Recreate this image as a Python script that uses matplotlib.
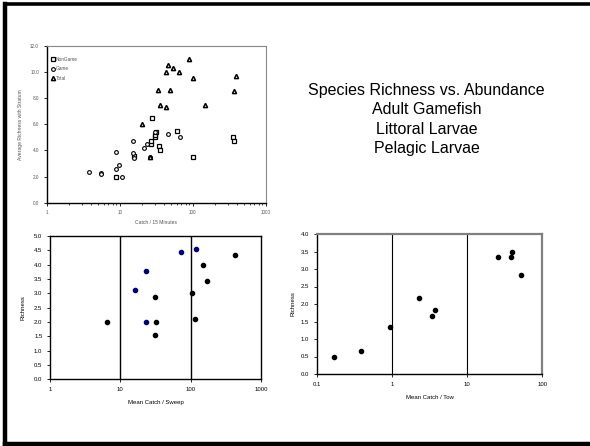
import matplotlib
matplotlib.use("Agg")
import matplotlib.pyplot as plt
from matplotlib.lines import Line2D

plt.rcParams['font.family'] = ['Liberation Sans', 'DejaVu Sans']

# top chart: adult gamefish
nongame_x = [8.9, 15.7, 26.5, 27, 27.7, 30.4, 30.7, 31.5, 34.7, 35.7, 60, 100, 355, 372]
nongame_y = [2.0, 3.55, 4.5, 4.7, 6.5, 5.0, 5.2, 5.4, 4.35, 4.0, 5.5, 3.5, 5.0, 4.7]
game_x = [3.8, 5.5, 5.5, 8.9, 9.0, 9.9, 10.9, 15, 15, 15.8, 21.7, 24, 26, 30.5, 46, 68]
game_y = [2.35, 2.3, 2.2, 3.85, 2.6, 2.85, 2.0, 4.75, 3.8, 3.4, 4.2, 4.5, 3.5, 5.4, 5.25, 5.0]
total_x = [20.5, 26, 33.8, 36, 43.5, 43, 45.4, 48.4, 53.7, 64, 89, 101, 149, 372, 396]
total_y = [6.0, 3.5, 8.6, 7.5, 7.3, 10.0, 10.5, 8.6, 10.3, 10.0, 11.0, 9.5, 7.5, 8.5, 9.7]

# bottom left: littoral larvae
litt_black_x = [6.5, 30.8, 31.8, 30.8, 103.5, 116, 151, 169, 431]
litt_black_y = [2.0, 2.88, 2.0, 1.55, 3.0, 2.1, 4.0, 3.44, 4.34]
litt_blue_x = [16, 22.9, 22.9, 73.6, 119]
litt_blue_y = [3.13, 3.78, 2.0, 4.44, 4.55]

# bottom right: pelagic larvae
pel_x = [0.168, 0.388, 0.944, 2.29, 3.44, 3.7, 26, 38.7, 39.5, 51.6]
pel_y = [0.5, 0.67, 1.33, 2.17, 1.67, 1.83, 3.33, 3.33, 3.5, 2.83]

title_lines = ['Species Richness vs. Abundance', 'Adult Gamefish',
               'Littoral Larvae', 'Pelagic Larvae']

W, H = 590, 446
fig = plt.figure(figsize=(W / 100, H / 100), dpi=100)


def box(x0, y0, x1, y1):
    return [x0 / W, 1 - y1 / H, (x1 - x0) / W, (y1 - y0) / H]


# slide frame
fig.add_artist(Line2D([5 / W, 5 / W], [1 - 3.5 / H, 1 - 444 / H], color='k', lw=3.2))
fig.add_artist(Line2D([5 / W, 1], [1 - 3.5 / H, 1 - 3.5 / H], color='k', lw=2.6))
fig.add_artist(Line2D([5 / W, 1], [1 - 444 / H, 1 - 444 / H], color='k', lw=3.2))

# ---- top chart
ax1 = fig.add_axes(box(46.7, 45.7, 265.7, 202.7))
ax1.plot(nongame_x, nongame_y, 's', ms=2.7, mfc='white', mec='k', mew=0.9, label='NonGame')
ax1.plot(game_x, game_y, 'o', ms=2.7, mfc='white', mec='k', mew=0.8, label='Game')
ax1.plot(total_x, total_y, '^', ms=3.0, mfc='white', mec='k', mew=1.1, label='Total')
ax1.set_xscale('log')
ax1.set_xlim(1, 1000)
ax1.set_ylim(0, 12)
ax1.set_xticks([1, 10, 100, 1000])
ax1.set_xticklabels(['1', '10', '100', '1000'])
ax1.set_yticks(range(0, 13, 2))
ax1.set_yticklabels([f'{v:.1f}' for v in range(0, 13, 2)])
ax1.tick_params(labelsize=3.3, labelcolor='#555555', length=2, width=0.6, direction='out')
ax1.tick_params(which='minor', length=1.3, width=0.5)
for s in ['left', 'bottom']:
    ax1.spines[s].set_linewidth(1.0)
for s in ['top', 'right']:
    ax1.spines[s].set_color('#888888')
    ax1.spines[s].set_linewidth(0.8)
ax1.set_ylabel('Average Richness with Stratum', fontsize=3.6, color='#555555', labelpad=5)
ax1.set_xlabel('Catch / 15 Minutes', fontsize=3.6, color='#555555', labelpad=3)
ax1.legend(loc='upper left', fontsize=3.4, frameon=False, handletextpad=0.1,
           handlelength=0.8, labelspacing=1.0, borderaxespad=0.6, labelcolor='#555555',
           bbox_to_anchor=(0.0, 0.96))

# ---- title text
for i, line in enumerate(title_lines):
    fig.text(426.7 / W, 1 - (90 + i * 19.5) / H, line, ha='center', va='center', fontsize=11.5)

# ---- bottom left
ax2 = fig.add_axes(box(50, 236, 261, 379.3))
ax2.plot(litt_black_x, litt_black_y, 'o', ms=3.0, color='k')
ax2.plot(litt_blue_x, litt_blue_y, 'o', ms=3.0, color='#000080')
for xv in [10, 100]:
    ax2.axvline(xv, color='k', lw=1.0)
ax2.set_xscale('log')
ax2.set_xlim(1, 1000)
ax2.set_ylim(0, 5)
ax2.set_yticks([v / 2 for v in range(11)])
ax2.set_yticklabels([f'{v / 2:.1f}' for v in range(11)])
ax2.minorticks_off()
ax2.set_xticks([1, 10, 100, 1000])
ax2.set_xticklabels(['1', '10', '100', '1000'])
ax2.tick_params(labelsize=4.3, length=2, width=0.6)
for s in ax2.spines.values():
    s.set_linewidth(1.0)
ax2.set_ylabel('Richness', fontsize=4.3, labelpad=6)
ax2.set_xlabel('Mean Catch / Sweep', fontsize=4.3, labelpad=6)

# ---- bottom right
ax3 = fig.add_axes(box(316.7, 234, 542.3, 374))
ax3.plot(pel_x, pel_y, 'o', ms=3.0, color='k')
for xv in [1, 10]:
    ax3.axvline(xv, color='k', lw=0.8)
ax3.set_xscale('log')
ax3.set_xlim(0.1, 100)
ax3.set_ylim(0, 4)
ax3.set_yticks([v / 2 for v in range(9)])
ax3.set_yticklabels([f'{v / 2:.1f}' for v in range(9)])
ax3.minorticks_off()
ax3.set_xticks([0.1, 1, 10, 100])
ax3.set_xticklabels(['0.1', '1', '10', '100'])
ax3.tick_params(labelsize=4.3, length=2, width=0.6)
ax3.spines['left'].set_linewidth(1.0)
ax3.spines['bottom'].set_linewidth(1.0)
for s in ['top', 'right']:
    ax3.spines[s].set_color('#808080')
    ax3.spines[s].set_linewidth(1.6)
ax3.set_ylabel('Richness', fontsize=4.3, labelpad=4)
ax3.set_xlabel('Mean Catch / Tow', fontsize=4.3, labelpad=6)

fig.savefig('out.png', dpi=100)
